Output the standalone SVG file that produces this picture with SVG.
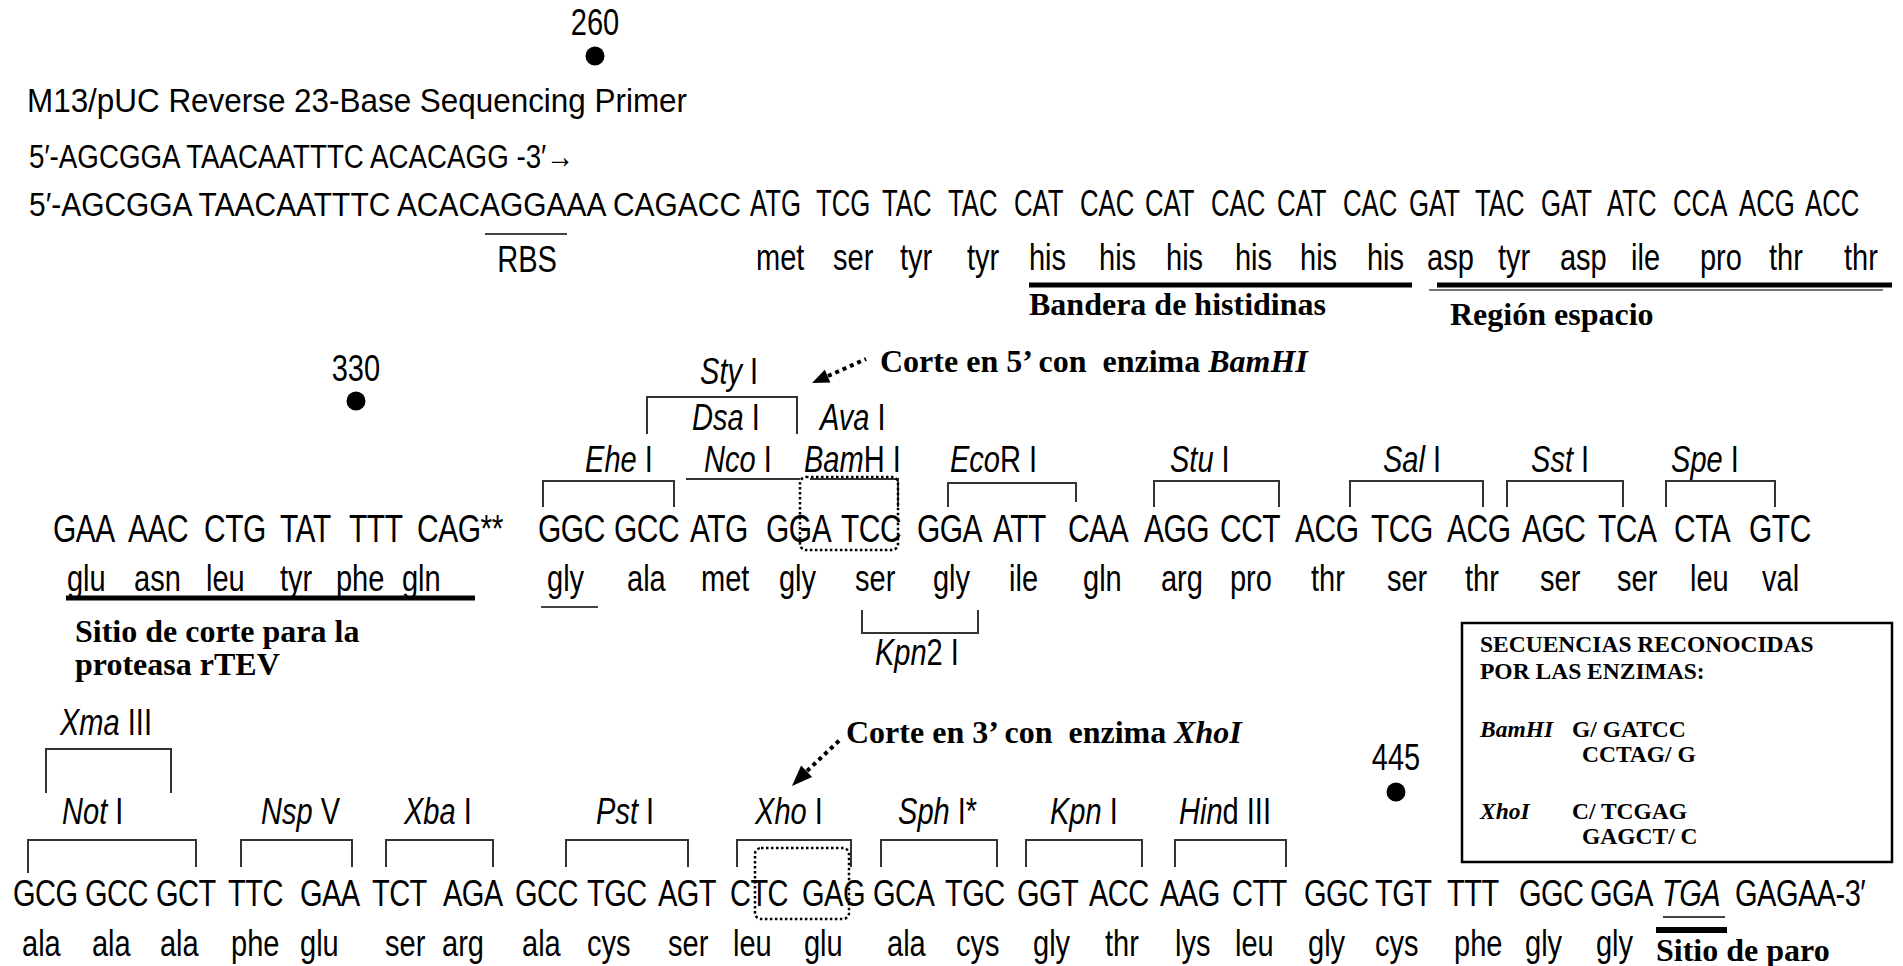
<svg xmlns="http://www.w3.org/2000/svg" width="1903" height="966" viewBox="0 0 1903 966">
<defs>
<style>
.s{font-family:"Liberation Sans",Arial,sans-serif;fill:#000}
.d1{font-size:33px}
.d2{font-size:34px;letter-spacing:-0.5px}
.d3{font-size:33px;letter-spacing:-0.6px}
.aa{font-size:33px}
.lab{font-size:33px}
.num{font-size:33px;text-anchor:middle}
.it{font-style:italic}
.b{font-family:"Liberation Serif","Times New Roman",serif;font-weight:bold;font-size:32px;fill:#000}
.bx{font-family:"Liberation Serif","Times New Roman",serif;font-weight:bold;font-size:23.5px;fill:#000}
.br{fill:none;stroke:#333;stroke-width:2}
.box{fill:none;stroke:#000;stroke-width:2.5;stroke-dasharray:2.5 2.5}
.arr{fill:none;stroke:#000;stroke-width:4;stroke-dasharray:4 4}
.ul{stroke:#000;stroke-width:5}
</style>
</defs>
<rect width="1903" height="966" fill="#fff"/>

<g id="header">
<text class="s num" transform="scale(0.88,1.12)" x="676.1" y="31.25">260</text>
<circle cx="595" cy="56" r="9.5" fill="#000"/>
<text class="s" transform="scale(1,1.05)" x="27" y="106.67" font-size="31" textLength="660" lengthAdjust="spacingAndGlyphs">M13/pUC Reverse 23-Base Sequencing Primer</text>
<text class="s" transform="scale(1,1.1)" x="29" y="152.73" font-size="31" textLength="545" lengthAdjust="spacingAndGlyphs">5′-AGCGGA TAACAATTTC ACACAGG -3′→</text>
</g>

<g id="line1">
<text class="s" transform="scale(1,1.12)" x="29" y="192.86" font-size="30" textLength="712" lengthAdjust="spacingAndGlyphs">5′-AGCGGA TAACAATTTC ACACAGGAAA CAGACC</text>
<text class="s d1" transform="scale(0.78,1.12)" y="192.86"><tspan x="961.5">ATG</tspan><tspan x="1046.2">TCG</tspan><tspan x="1130.8">TAC</tspan><tspan x="1215.4">TAC</tspan><tspan x="1300">CAT</tspan><tspan x="1384.6">CAC</tspan><tspan x="1467.9">CAT</tspan><tspan x="1552.6">CAC</tspan><tspan x="1637.2">CAT</tspan><tspan x="1721.8">CAC</tspan><tspan x="1806.4">GAT</tspan><tspan x="1891">TAC</tspan><tspan x="1975.6">GAT</tspan><tspan x="2060.3">ATC</tspan><tspan x="2144.9">CCA</tspan><tspan x="2229.5">ACG</tspan><tspan x="2314.1">ACC</tspan></text>
<line x1="485" y1="234" x2="567" y2="234" stroke="#444" stroke-width="2"/>
<text class="s aa" transform="scale(0.88,1.12)" x="598.9" y="242.86" text-anchor="middle">RBS</text>
<text class="s aa" transform="scale(0.88,1.12)" y="241.07"><tspan x="859.1">met</tspan><tspan x="946.6">ser</tspan><tspan x="1022.7">tyr</tspan><tspan x="1098.9">tyr</tspan><tspan x="1169.3">his</tspan><tspan x="1248.9">his</tspan><tspan x="1325">his</tspan><tspan x="1403.4">his</tspan><tspan x="1477.3">his</tspan><tspan x="1553.4">his</tspan><tspan x="1621.6">asp</tspan><tspan x="1702.3">tyr</tspan><tspan x="1772.7">asp</tspan><tspan x="1853.4">ile</tspan><tspan x="1931.8">pro</tspan><tspan x="2010.2">thr</tspan><tspan x="2095.5">thr</tspan></text>
<line class="ul" x1="1029" y1="285" x2="1412" y2="285"/>
<line class="ul" x1="1437" y1="285" x2="1892" y2="285"/>
<line x1="1429" y1="290" x2="1883" y2="290" stroke="#777" stroke-width="2"/>
<text class="b" x="1029" y="315">Bandera de histidinas</text>
<text class="b" x="1450" y="325">Región espacio</text>
</g>

<g id="line2-labels">
<text class="s num" transform="scale(0.88,1.12)" x="404.5" y="340.18">330</text>
<circle cx="356" cy="401" r="9.5" fill="#000"/>
<text class="s lab" transform="scale(0.88,1.12)" x="795.5" y="342.86"><tspan class="it">Sty</tspan> I</text>
<path class="br" d="M647,434 V397 H797 V434"/>
<text class="s lab" transform="scale(0.88,1.12)" x="786.4" y="383.93"><tspan class="it">Dsa</tspan> I</text>
<text class="s lab" transform="scale(0.88,1.12)" x="931.8" y="383.93"><tspan class="it">Ava</tspan> I</text>
<text class="s lab" transform="scale(0.88,1.12)" y="421.43" x="664.8"><tspan class="it">Ehe</tspan> I</text>
<text class="s lab" transform="scale(0.88,1.12)" y="421.43" x="800"><tspan class="it">Nco</tspan> I</text>
<text class="s lab" transform="scale(0.88,1.12)" y="421.43" x="913.6"><tspan class="it">Bam</tspan>H I</text>
<text class="s lab" transform="scale(0.88,1.12)" y="421.43" x="1079.5"><tspan class="it">Eco</tspan>R I</text>
<text class="s lab" transform="scale(0.88,1.12)" y="421.43" x="1329.5"><tspan class="it">Stu</tspan> I</text>
<text class="s lab" transform="scale(0.88,1.12)" y="421.43" x="1571.6"><tspan class="it">Sal</tspan> I</text>
<text class="s lab" transform="scale(0.88,1.12)" y="421.43" x="1739.8"><tspan class="it">Sst</tspan> I</text>
<text class="s lab" transform="scale(0.88,1.12)" y="421.43" x="1898.9"><tspan class="it">Spe</tspan> I</text>
<path class="br" d="M543,507 V481 H674 V507"/>
<path class="br" d="M686,479 H800"/>
<path class="br" d="M810,479 H898 V507"/>
<path class="br" d="M948,507 V483 H1076 V502"/>
<path class="br" d="M1154,507 V481 H1279 V507"/>
<path class="br" d="M1350,507 V481 H1483 V507"/>
<path class="br" d="M1507,507 V481 H1623 V507"/>
<path class="br" d="M1666,507 V481 H1775 V507"/>
</g>

<g id="line2">
<text class="s d2" transform="scale(0.88,1.12)" y="483.93"><tspan x="60.2">GAA</tspan><tspan x="145.5">AAC</tspan><tspan x="231.8">CTG</tspan><tspan x="318.2">TAT</tspan><tspan x="396.6">TTT</tspan><tspan x="473.9">CAG**</tspan><tspan x="611.4">GGC</tspan><tspan x="697.7">GCC</tspan><tspan x="784.1">ATG</tspan><tspan x="870.5">GGA</tspan><tspan x="955.7">TCC</tspan><tspan x="1042">GGA</tspan><tspan x="1128.4">ATT</tspan><tspan x="1213.6">CAA</tspan><tspan x="1300">AGG</tspan><tspan x="1386.4">CCT</tspan><tspan x="1471.6">ACG</tspan><tspan x="1558">TCG</tspan><tspan x="1644.3">ACG</tspan><tspan x="1729.5">AGC</tspan><tspan x="1815.9">TCA</tspan><tspan x="1902.3">CTA</tspan><tspan x="1987.5">GTC</tspan></text>
<rect class="box" x="800" y="477" width="98" height="73" rx="6"/>
<text class="s aa" transform="scale(0.88,1.12)" y="527.68"><tspan x="76.1">glu</tspan><tspan x="152.3">asn</tspan><tspan x="234.1">leu</tspan><tspan x="318.2">tyr</tspan><tspan x="381.8">phe</tspan><tspan x="456.8">gln</tspan><tspan x="621.6">gly</tspan><tspan x="712.5">ala</tspan><tspan x="796.6">met</tspan><tspan x="885.2">gly</tspan><tspan x="971.6">ser</tspan><tspan x="1060.2">gly</tspan><tspan x="1146.6">ile</tspan><tspan x="1230.7">gln</tspan><tspan x="1319.3">arg</tspan><tspan x="1397.7">pro</tspan><tspan x="1489.8">thr</tspan><tspan x="1576.1">ser</tspan><tspan x="1664.8">thr</tspan><tspan x="1750">ser</tspan><tspan x="1837.5">ser</tspan><tspan x="1920.5">leu</tspan><tspan x="2002.3">val</tspan></text>
<line class="ul" x1="66" y1="598" x2="475" y2="598"/>
<line x1="541" y1="607" x2="598" y2="607" stroke="#444" stroke-width="2"/>
<path class="br" d="M862,610 V633 H978 V610"/>
<text class="s lab" transform="scale(0.88,1.12)" x="994.3" y="593.75"><tspan class="it">Kpn</tspan>2 I</text>
<text class="b" x="75" y="642">Sitio de corte para la</text>
<text class="b" x="75" y="675">proteasa rTEV</text>
</g>

<g id="legend">
<rect x="1462" y="623" width="430" height="239" fill="none" stroke="#000" stroke-width="2.5"/>
<text class="bx" x="1480" y="652">SECUENCIAS RECONOCIDAS</text>
<text class="bx" x="1480" y="679">POR LAS ENZIMAS:</text>
<text class="bx" x="1480" y="737"><tspan font-style="italic">BamHI</tspan></text>
<text class="bx" x="1572" y="737">G/ GATCC</text>
<text class="bx" x="1582" y="762">CCTAG/ G</text>
<text class="bx" x="1480" y="819"><tspan font-style="italic">XhoI</tspan></text>
<text class="bx" x="1572" y="819">C/ TCGAG</text>
<text class="bx" x="1582" y="844">GAGCT/ C</text>
</g>

<g id="line3-labels">
<text class="s lab" transform="scale(0.88,1.12)" x="68.2" y="656.25"><tspan class="it">Xma</tspan> III</text>
<path class="br" d="M46,793 V749 H171 V793"/>
<text class="s num" transform="scale(0.88,1.12)" x="1586.4" y="687.5">445</text>
<circle cx="1396" cy="792" r="9.5" fill="#000"/>
<text class="s lab" transform="scale(0.88,1.12)" y="735.71" x="70.5"><tspan class="it">Not</tspan> I</text>
<text class="s lab" transform="scale(0.88,1.12)" y="735.71" x="296.6"><tspan class="it">Nsp</tspan> V</text>
<text class="s lab" transform="scale(0.88,1.12)" y="735.71" x="459.1"><tspan class="it">Xba</tspan> I</text>
<text class="s lab" transform="scale(0.88,1.12)" y="735.71" x="677.3"><tspan class="it">Pst</tspan> I</text>
<text class="s lab" transform="scale(0.88,1.12)" y="735.71" x="858"><tspan class="it">Xho</tspan> I</text>
<text class="s lab" transform="scale(0.88,1.12)" y="735.71" x="1020.5"><tspan class="it">Sph</tspan> I*</text>
<text class="s lab" transform="scale(0.88,1.12)" y="735.71" x="1193.2"><tspan class="it">Kpn</tspan> I</text>
<text class="s lab" transform="scale(0.88,1.12)" y="735.71" x="1339.8"><tspan class="it">Hin</tspan>d III</text>
<path class="br" d="M28,873 V840 H196 V867"/>
<path class="br" d="M241,867 V840 H352 V867"/>
<path class="br" d="M386,867 V840 H493 V867"/>
<path class="br" d="M566,867 V840 H688 V867"/>
<path class="br" d="M737,867 V840 H851 V867"/>
<path class="br" d="M881,867 V840 H997 V867"/>
<path class="br" d="M1026,867 V840 H1142 V867"/>
<path class="br" d="M1175,867 V840 H1286 V867"/>
</g>

<g id="line3">
<text class="s d3" transform="scale(0.88,1.12)" y="808.93"><tspan x="14.8">GCG</tspan><tspan x="96.6">GCC</tspan><tspan x="177.3">GCT</tspan><tspan x="259.1">TTC</tspan><tspan x="340.9">GAA</tspan><tspan x="422.7">TCT</tspan><tspan x="503.4">AGA</tspan><tspan x="585.2">GCC</tspan><tspan x="667">TGC</tspan><tspan x="747.7">AGT</tspan><tspan x="829.5">CTC</tspan><tspan x="911.4">GAG</tspan><tspan x="992">GCA</tspan><tspan x="1073.9">TGC</tspan><tspan x="1155.7">GGT</tspan><tspan x="1237.5">ACC</tspan><tspan x="1318.2">AAG</tspan><tspan x="1400">CTT</tspan><tspan x="1481.8">GGC</tspan><tspan x="1562.5">TGT</tspan><tspan x="1644.3">TTT</tspan><tspan x="1726.1">GGC</tspan><tspan x="1806.8">GGA</tspan><tspan x="1888.6" font-style="italic">TGA</tspan><tspan x="1971.6">GAGAA-3′</tspan></text>
<rect class="box" x="755" y="848" width="94" height="71" rx="6"/>
<line x1="1663" y1="917" x2="1725" y2="917" stroke="#444" stroke-width="2"/>
<line x1="1656" y1="930" x2="1727" y2="930" stroke="#000" stroke-width="6"/>
<text class="s aa" transform="scale(0.88,1.12)" y="853.57"><tspan x="25">ala</tspan><tspan x="104.5">ala</tspan><tspan x="181.8">ala</tspan><tspan x="262.5">phe</tspan><tspan x="340.9">glu</tspan><tspan x="437.5">ser</tspan><tspan x="502.3">arg</tspan><tspan x="593.2">ala</tspan><tspan x="667">cys</tspan><tspan x="759.1">ser</tspan><tspan x="833">leu</tspan><tspan x="913.6">glu</tspan><tspan x="1008">ala</tspan><tspan x="1086.4">cys</tspan><tspan x="1173.9">gly</tspan><tspan x="1255.7">thr</tspan><tspan x="1335.2">lys</tspan><tspan x="1403.4">leu</tspan><tspan x="1486.4">gly</tspan><tspan x="1562.5">cys</tspan><tspan x="1652.3">phe</tspan><tspan x="1733">gly</tspan><tspan x="1813.6">gly</tspan></text>
<text class="b" x="1656" y="961">Sitio de paro</text>
</g>

<g id="connectors">
<line class="arr" x1="828" y1="376" x2="866" y2="359"/>
<polygon points="812,383 830.4,382.5 824.8,369.7" fill="#000"/>
<text class="b" x="880" y="372">Corte en 5’ con&#160; enzima <tspan font-style="italic">BamHI</tspan></text>
<line class="arr" x1="807" y1="771" x2="842" y2="738"/>
<polygon points="792,786 812.1,777.1 801.1,765.5" fill="#000"/>
<text class="b" x="846" y="743">Corte en 3’ con&#160; enzima <tspan font-style="italic">XhoI</tspan></text>
</g>
</svg>
